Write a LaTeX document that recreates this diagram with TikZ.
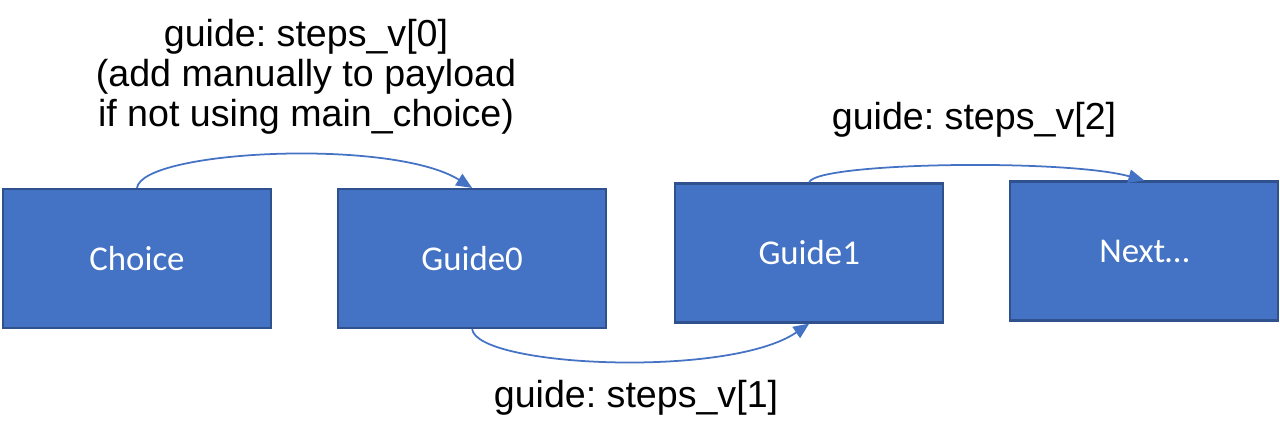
\documentclass[tikz,border=0pt]{standalone}
\usepackage{fontspec}
\setmainfont{Liberation Sans}
\newfontfamily\cajafont{Carlito}
\usepackage{tikz}
\usetikzlibrary{arrows.meta, positioning, calc}
\definecolor{rellenoCaja}{HTML}{4472C4}
\definecolor{bordeCaja}{HTML}{2F528F}
\definecolor{lineaFlecha}{HTML}{4472C4}
\frenchspacing

\begin{document}
\begin{tikzpicture}[
  caja/.style={draw=bordeCaja, fill=rellenoCaja, line width=0.6pt,
               minimum width=2.68cm, minimum height=1.39cm,
               text=white, font=\cajafont\fontsize{9.9}{12}\selectfont},
  flecha/.style={-{Triangle[length=4.5pt, width=3.8pt]}, draw=lineaFlecha, line width=0.5pt},
  etiqueta/.style={align=center, font=\fontsize{10.7}{11.4}\selectfont}
]
\useasboundingbox (0,0) rectangle (12.8,4.41);

\node[caja] (choice) at (1.37,1.825) {Choice};
\node[caja, right=0.65cm of choice] (guide0) {Guide0};
\node[caja, right=0.67cm of guide0, yshift=0.055cm] (guide1) {Guide1};
\node[caja, right=0.65cm of guide1, yshift=0.02cm] (next) {Next\ldots};

\draw[flecha] (choice.north) .. controls +(0.05,0.38) and +(-0.8,0.5) .. (guide0.north);
\draw[flecha] (guide0.south) .. controls +(0.05,-0.38) and +(-0.8,-0.55) .. (guide1.south);
\draw[flecha] (guide1.north) .. controls +(0.05,0.2) and +(-0.8,0.22) .. (next.north);

% Textos de cada paso
\node[etiqueta] (paso0) at (3.06,3.64)
  {guide: steps\_v[0]\\(add manually to payload\\if not using main\_choice)};
\node[etiqueta] (paso1) at (6.36,0.43) {guide: steps\_v[1]};
\node[etiqueta] (paso2) at (9.74,3.21) {guide: steps\_v[2]};

\end{tikzpicture}
\end{document}
